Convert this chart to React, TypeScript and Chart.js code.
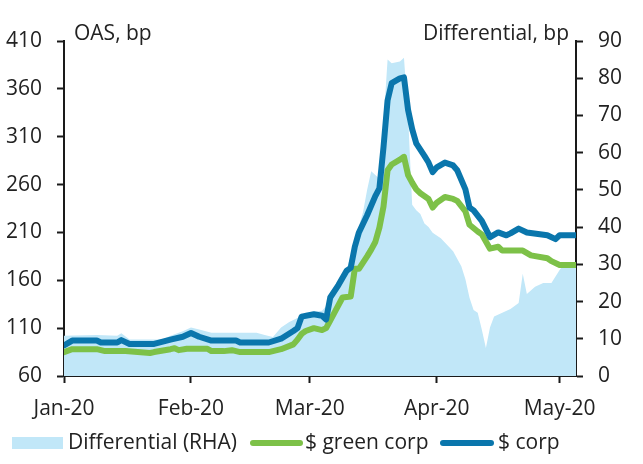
import React, { useEffect, useRef } from 'react';
import { Chart, registerables } from 'chart.js';

Chart.register(...registerables);

// X axis: days since 1 Jan 2020
const xTickDays = [0, 31, 60, 91, 121];
const xTickLabels = ['Jan-20', 'Feb-20', 'Mar-20', 'Apr-20', 'May-20'];
const xMin = 0;
const xMax = 125;

// Left axis (OAS, bp) and right axis (Differential, bp)
const leftMin = 60;
const leftMax = 410;
const leftStep = 50;
const rightMin = 0;
const rightMax = 90;
const rightStep = 10;

const seriesNames = ['Differential (RHA)', '$ green corp', '$ corp'];

// $ corp OAS
const corpDays = [0, 2, 8, 9, 13, 14, 16, 22, 26, 29, 31, 33, 36, 42, 43, 50, 53, 56, 57, 58, 61, 63, 64, 65, 67, 69, 70, 71, 72, 74, 76, 77, 78, 79, 80, 82, 83, 84, 85, 86, 88, 89, 90, 91, 93, 95, 96, 98, 99, 100, 102, 104, 106, 108, 109, 111, 113, 118, 120, 121, 125];
const corpValues = [92, 97, 97, 95, 95, 97.5, 93.5, 93.5, 98, 101, 105, 101, 97, 97, 95, 95, 99, 107, 110, 122, 124.5, 123, 119, 142, 155, 170, 173, 195, 210, 228, 248, 256, 299, 348, 366, 371, 372, 338, 318, 303, 290, 283, 273, 278, 283, 280, 275, 255, 236, 233, 222, 205, 210, 207, 209, 214, 210, 207, 203, 207, 207];

// $ green corp OAS
const greenDays = [0, 2, 8, 10, 15, 21, 22, 26, 27, 28, 30, 35, 36, 39, 41, 43, 50, 53, 56, 57, 58, 59, 61, 63, 64, 65, 66, 68, 70, 71, 72, 74, 75, 76, 77, 78, 79, 80, 82, 83, 84, 85, 86, 87, 89, 90, 91, 93, 95, 96, 98, 99, 101, 102, 104, 106, 107, 112, 114, 118, 119, 121, 125];
const greenValues = [85, 88, 88, 86, 86, 84, 85, 88, 89, 87, 88.5, 88.5, 86, 86, 87, 85, 85, 88, 93, 98, 104, 107, 110, 108, 110, 118, 126, 142, 143, 172, 172, 185, 192, 200, 215, 237, 275, 281, 286, 289, 270, 262, 255, 251, 245, 236, 241, 247, 245, 243, 232, 218, 211, 208, 193, 195, 191, 191, 186, 183, 180, 176, 176];

// Differential (right axis)
const diffDays = [0, 8, 13, 14, 16, 24, 26, 29, 31, 33, 36, 47, 49, 51, 53, 55, 57, 59, 63, 65, 67, 69, 71, 73, 74, 75, 76, 77, 78, 79, 80, 82, 83, 84, 85, 86, 87, 88, 89, 90, 92, 95, 97, 98, 99, 100, 101, 102, 103, 104, 105, 107, 109, 111, 112, 113, 115, 117, 119, 121, 122, 125];
const diffValues = [10.8, 11, 10.8, 11.5, 9.8, 9.8, 10.8, 12, 13, 12.5, 11.6, 11.6, 11, 10.5, 13, 14.5, 15.6, 17, 17.5, 20, 24, 28.5, 36.5, 44, 50, 55, 54, 53, 68, 85, 84, 84.5, 85.5, 70, 46, 44.5, 43.5, 41, 40, 38.5, 37, 33.5, 29.5, 26, 21, 17.7, 17, 12.5, 7.5, 13, 16, 17, 18, 19.6, 27.5, 22, 24, 25, 25, 28.5, 30, 30];

const COLOR_AREA = 'rgb(193,231,248)';
const COLOR_GREEN = 'rgb(125,193,72)';
const COLOR_BLUE = 'rgb(10,118,172)';
const TEXT = '#222222';
const AXIS = '#1a1a1a';
const FONT_FAMILY = '"Open Sans", "Noto Sans", sans-serif';
const FONT_SIZE = 21;

const toPoints = (days: number[], vals: number[]) => days.map((d, i) => ({ x: d, y: vals[i] }));

const overlayPlugin = {
  id: 'overlay',
  afterDraw(chart: any) {
    const ctx = chart.ctx as CanvasRenderingContext2D;
    const area = chart.chartArea;
    ctx.save();
    ctx.font = `${FONT_SIZE}px ${FONT_FAMILY}`;
    ctx.fillStyle = TEXT;
    ctx.textBaseline = 'alphabetic';
    ctx.textAlign = 'left';
    ctx.fillText('OAS, bp', area.left + 10, area.top - 1);
    ctx.textAlign = 'right';
    ctx.fillText('Differential, bp', area.right - 7, area.top - 1);

    // legend
    const cy = 443;
    ctx.fillStyle = COLOR_AREA;
    ctx.fillRect(12, 437, 51, 12);
    ctx.fillStyle = TEXT;
    ctx.textAlign = 'left';
    ctx.textBaseline = 'middle';
    ctx.fillText(seriesNames[0], 68, cy);

    ctx.lineCap = 'round';
    ctx.lineWidth = 6;
    ctx.strokeStyle = COLOR_GREEN;
    ctx.beginPath();
    ctx.moveTo(253, cy);
    ctx.lineTo(300, cy);
    ctx.stroke();
    ctx.fillText(seriesNames[1], 305, cy);

    ctx.strokeStyle = COLOR_BLUE;
    ctx.beginPath();
    ctx.moveTo(443, cy);
    ctx.lineTo(491, cy);
    ctx.stroke();
    ctx.fillText(seriesNames[2], 498, cy);
    ctx.restore();
  },
};

export default function App() {
  const canvasRef = useRef<HTMLCanvasElement | null>(null);

  useEffect(() => {
    if (!canvasRef.current) return;
    const tickFont = { family: FONT_FAMILY, size: FONT_SIZE };
    const axisGrid = {
      display: true,
      drawOnChartArea: false,
      drawTicks: true,
      tickLength: 7,
      tickWidth: 2,
      tickColor: AXIS,
    };
    const axisBorder = { display: true, color: AXIS, width: 2 };
    const chart = new Chart(canvasRef.current, {
      type: 'line',
      data: {
        datasets: [
          {
            label: seriesNames[2],
            data: toPoints(corpDays, corpValues),
            borderColor: COLOR_BLUE,
            borderWidth: 6,
            pointRadius: 0,
            tension: 0,
            fill: false,
            yAxisID: 'y',
            borderJoinStyle: 'round',
            borderCapStyle: 'round',
          },
          {
            label: seriesNames[1],
            data: toPoints(greenDays, greenValues),
            borderColor: COLOR_GREEN,
            borderWidth: 6,
            pointRadius: 0,
            tension: 0,
            fill: false,
            yAxisID: 'y',
            borderJoinStyle: 'round',
            borderCapStyle: 'round',
          },
          {
            label: seriesNames[0],
            data: toPoints(diffDays, diffValues),
            borderColor: COLOR_AREA,
            backgroundColor: COLOR_AREA,
            borderWidth: 0,
            pointRadius: 0,
            tension: 0,
            fill: 'origin',
            yAxisID: 'y1',
          },
        ],
      },
      options: {
        animation: false,
        responsive: false,
        maintainAspectRatio: false,
        layout: { padding: { top: 41, left: 0, right: 0, bottom: 0 } },
        plugins: {
          legend: { display: false },
          tooltip: { enabled: false },
          title: { display: false },
        },
        scales: {
          x: {
            type: 'linear',
            min: xMin,
            max: xMax,
            offset: false,
            afterFit: (scale: any) => {
              scale.height = 88;
            },
            afterBuildTicks: (scale: any) => {
              scale.ticks = xTickDays.map((v) => ({ value: v }));
            },
            ticks: {
              autoSkip: false,
              maxRotation: 0,
              padding: 13,
              color: TEXT,
              font: tickFont,
              callback: (value: any) => {
                const i = xTickDays.indexOf(Number(value));
                return i >= 0 ? xTickLabels[i] : '';
              },
            },
            grid: axisGrid,
            border: axisBorder,
          },
          y: {
            type: 'linear',
            position: 'left',
            min: leftMin,
            max: leftMax,
            afterFit: (scale: any) => {
              scale.width = 64;
            },
            ticks: {
              stepSize: leftStep,
              padding: 15,
              color: TEXT,
              font: tickFont,
            },
            grid: axisGrid,
            border: axisBorder,
          },
          y1: {
            type: 'linear',
            position: 'right',
            min: rightMin,
            max: rightMax,
            afterFit: (scale: any) => {
              scale.width = 67;
            },
            ticks: {
              stepSize: rightStep,
              padding: 15,
              color: TEXT,
              font: tickFont,
            },
            grid: axisGrid,
            border: axisBorder,
          },
        },
      },
      plugins: [overlayPlugin],
    } as any);
    return () => chart.destroy();
  }, []);

  return (
    <div style={{ position: 'fixed', left: 0, top: 0, width: 643, height: 464, background: '#ffffff' }}>
      <canvas ref={canvasRef} width={643} height={464} style={{ width: 643, height: 464, display: 'block' }} />
    </div>
  );
}
